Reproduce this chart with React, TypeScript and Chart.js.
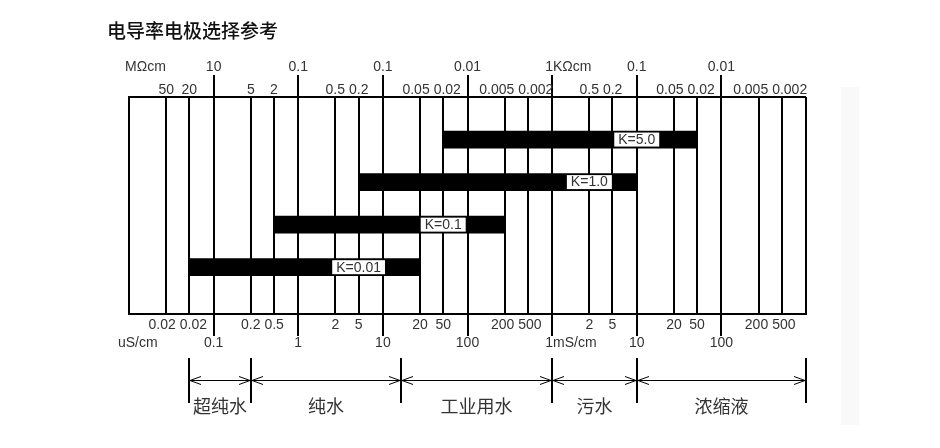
import { useEffect, useRef } from 'react';
import { Chart, registerables } from 'chart.js';

Chart.register(...registerables);

// ---------- data ----------
const TITLE = '电导率电极选择参考';

// conductivity axis, uS/cm
const AXIS_MIN = 0.01;
const AXIS_MAX = 1000000;
const MAJOR_LINES = [0.1, 1, 10, 100, 1000, 10000, 100000];
const MINOR_LINES = [
  0.02, 0.05, 0.2, 0.5, 2, 5, 20, 50, 200, 500,
  2000, 5000, 20000, 50000, 200000, 500000,
];

// resistivity labels (top)
const TOP_UNIT = 'MΩcm';
const TOP_MAJOR_LABELS = ['10', '0.1', '0.1', '0.01', '1KΩcm', '0.1', '0.01'];
const TOP_MINOR_LABELS = [
  '50', '20', '5', '2', '0.5', '0.2', '0.05', '0.02', '0.005', '0.002',
  '0.5', '0.2', '0.05', '0.02', '0.005', '0.002',
];

// conductivity labels (bottom)
const BOTTOM_UNIT = 'uS/cm';
const BOTTOM_MINOR_LABELS = [
  '0.02', '0.02', '0.2', '0.5', '2', '5', '20', '50', '200', '500',
  '2', '5', '20', '50', '200', '500',
];
const BOTTOM_MAJOR_LABELS = ['0.1', '1', '10', '100', '1mS/cm', '10', '100'];

// electrode ranges, uS/cm
const ELECTRODES = ['K=5.0', 'K=1.0', 'K=0.1', 'K=0.01'];
const RANGE_LOW = [50, 5, 0.5, 0.05];
const RANGE_HIGH = [50000, 10000, 200, 20];
const LABEL_AT = [10000, 2000, 50, 5];

// water classes, uS/cm boundaries
const WATER_TYPES = ['超纯水', '纯水', '工业用水', '污水', '浓缩液'];
const WATER_BOUNDS = [0.05, 0.2, 15, 1000, 10000, 1000000];

// ---------- the diagram's own log ruler (1, 2, 5 marks within a decade) ----------
const RULER_MANTISSA = [1, 2, 5, 10];
const RULER_FRACTION = [0, 0.44, 0.713, 1];

function toPos(v: number): number {
  let e = Math.floor(Math.log10(v) + 1e-9);
  let m = v / Math.pow(10, e);
  if (m < 1 - 1e-9) { m *= 10; e -= 1; }
  let i = 0;
  while (i < 2 && m > RULER_MANTISSA[i + 1]) i++;
  const t = (m - RULER_MANTISSA[i]) / (RULER_MANTISSA[i + 1] - RULER_MANTISSA[i]);
  const f = RULER_FRACTION[i] + t * (RULER_FRACTION[i + 1] - RULER_FRACTION[i]);
  return e - Math.round(Math.log10(AXIS_MIN)) + f;
}

const LATIN = '"Liberation Sans", Arial, sans-serif';
const CJK = '"Noto Sans CJK SC", sans-serif';
const TEXT = '#333';

type Item = { text: string; x: number; w: number };

function spread(items: Item[], gap: number) {
  items.sort((a, b) => a.x - b.x);
  for (let k = 0; k < items.length - 1; k++) {
    const a = items[k];
    const b = items[k + 1];
    const need = a.w / 2 + b.w / 2 + gap;
    const have = b.x - a.x;
    if (have < need) {
      const d = (need - have) / 2;
      a.x -= d;
      b.x += d;
    }
  }
}

const overlay = {
  id: 'diagramOverlay',
  afterDraw(chart: any) {
    const ctx: CanvasRenderingContext2D = chart.ctx;
    const xs = chart.scales.x;
    const ys = chart.scales.y;
    const area = chart.chartArea;
    const px = (v: number) => xs.getPixelForValue(toPos(v));
    ctx.save();

    // title
    ctx.fillStyle = '#111';
    ctx.font = `500 19px ${CJK}`;
    ctx.textAlign = 'left';
    ctx.textBaseline = 'middle';
    ctx.fillText(TITLE, area.left - 22, 31);

    // major tick extensions
    ctx.strokeStyle = '#000';
    ctx.lineWidth = 2;
    MAJOR_LINES.forEach((v) => {
      const x = Math.round(px(v));
      ctx.beginPath();
      ctx.moveTo(x, area.top - 22);
      ctx.lineTo(x, area.top);
      ctx.moveTo(x, area.bottom);
      ctx.lineTo(x, area.bottom + 22);
      ctx.stroke();
    });

    // bar labels
    ctx.font = `14px ${LATIN}`;
    ctx.textAlign = 'center';
    ELECTRODES.forEach((name, i) => {
      const cx = px(LABEL_AT[i]);
      const cy = ys.getPixelForValue(i + 1);
      const w = ctx.measureText(name).width + 8;
      ctx.fillStyle = '#fff';
      ctx.fillRect(cx - w / 2, cy - 7, w, 14);
      ctx.fillStyle = TEXT;
      ctx.fillText(name, cx, cy + 0.5);
    });

    // axis label rows
    const row = (labels: string[], values: number[], y: number) => {
      const items: Item[] = labels.map((t, k) => ({
        text: t,
        x: px(values[k]),
        w: ctx.measureText(t).width,
      }));
      spread(items, 4);
      items.forEach((it) => ctx.fillText(it.text, it.x, y));
    };
    ctx.fillStyle = TEXT;
    ctx.font = `14px ${LATIN}`;
    ctx.textAlign = 'center';

    const majorRow = (labels: string[], y: number) => {
      labels.forEach((t, k) => {
        const x = px(MAJOR_LINES[k]);
        if (/[A-Za-z]/.test(t)) {
          const lead = t.match(/^[0-9.]+/)![0];
          const w1 = ctx.measureText(lead).width;
          ctx.textAlign = 'left';
          ctx.fillText(t, x - w1 / 2 - 3, y);
          ctx.textAlign = 'center';
        } else {
          ctx.fillText(t, x, y);
        }
      });
    };

    const topRow1 = area.top - 30;
    const topRow2 = area.top - 7;
    const botRow1 = area.bottom + 11;
    const botRow2 = area.bottom + 29;

    majorRow(TOP_MAJOR_LABELS, topRow1);
    row(TOP_MINOR_LABELS, MINOR_LINES, topRow2);
    row(BOTTOM_MINOR_LABELS, MINOR_LINES, botRow1);
    majorRow(BOTTOM_MAJOR_LABELS, botRow2);

    ctx.textAlign = 'left';
    ctx.fillText(TOP_UNIT, area.left - 4, topRow1);
    ctx.fillText(BOTTOM_UNIT, area.left - 11, botRow2);

    // water classes with double arrows
    const vTop = area.bottom + 44;
    const vBot = area.bottom + 89;
    const ay = area.bottom + 66.5;
    const bx = WATER_BOUNDS.map((v) => Math.round(px(v)));
    ctx.strokeStyle = '#000';
    ctx.lineWidth = 2;
    bx.forEach((x) => {
      ctx.beginPath();
      ctx.moveTo(x, vTop);
      ctx.lineTo(x, vBot);
      ctx.stroke();
    });
    ctx.lineWidth = 1;
    for (let k = 0; k < WATER_TYPES.length; k++) {
      const x1 = bx[k];
      const x2 = bx[k + 1];
      ctx.beginPath();
      ctx.moveTo(x1, ay);
      ctx.lineTo(x2, ay);
      ctx.moveTo(x1 + 12, ay - 4);
      ctx.lineTo(x1 + 1, ay);
      ctx.lineTo(x1 + 12, ay + 4);
      ctx.moveTo(x2 - 12, ay - 4);
      ctx.lineTo(x2 - 1, ay);
      ctx.lineTo(x2 - 12, ay + 4);
      ctx.stroke();
    }
    ctx.fillStyle = TEXT;
    ctx.font = `18px ${CJK}`;
    ctx.textAlign = 'center';
    WATER_TYPES.forEach((t, k) => {
      ctx.fillText(t, (bx[k] + bx[k + 1]) / 2, area.bottom + 92);
    });

    ctx.restore();
  },
};

export default function App() {
  const ref = useRef<HTMLCanvasElement | null>(null);

  useEffect(() => {
    if (!ref.current) return;
    const gridValues = [AXIS_MIN, ...MAJOR_LINES, ...MINOR_LINES, AXIS_MAX].map(toPos);
    const chart = new Chart(ref.current, {
      type: 'bar',
      data: {
        datasets: [
          {
            data: ELECTRODES.map((_, i) => ({
              x: [toPos(RANGE_LOW[i]), toPos(RANGE_HIGH[i])],
              y: i + 1,
            })) as any,
            backgroundColor: '#000',
            borderWidth: 0,
            borderSkipped: false,
            barThickness: 17,
          },
        ],
      },
      options: {
        indexAxis: 'y',
        responsive: false,
        animation: false,
        events: [],
        layout: { padding: { left: 129, right: 134, top: 97, bottom: 134 } },
        plugins: {
          legend: { display: false },
          tooltip: { enabled: false },
          title: { display: false },
        },
        scales: {
          x: {
            type: 'linear',
            offset: false,
            min: toPos(AXIS_MIN),
            max: toPos(AXIS_MAX),
            afterBuildTicks: (s: any) => {
              s.ticks = gridValues.map((v) => ({ value: v }));
            },
            ticks: { display: false },
            grid: { color: '#000', lineWidth: 2, drawTicks: false, offset: false },
            border: { display: true, color: '#000', width: 2 },
          },
          y: {
            type: 'linear',
            offset: false,
            reverse: true,
            min: 0,
            max: 5.1,
            afterBuildTicks: (s: any) => {
              s.ticks = [{ value: 0 }, { value: 5.1 }];
            },
            ticks: { display: false },
            grid: { color: '#000', lineWidth: 2, drawTicks: false, offset: false },
            border: { display: true, color: '#000', width: 2 },
          },
        },
      } as any,
      plugins: [overlay],
    });
    return () => chart.destroy();
  }, []);

  return (
    <div style={{ position: 'fixed', left: 0, top: 0, width: 940, height: 448, background: '#fff' }}>
      <canvas ref={ref} width={940} height={448} style={{ width: 940, height: 448, display: 'block' }} />
      <div
        style={{
          position: 'absolute',
          left: 841,
          top: 87,
          width: 18,
          height: 338,
          background: '#f9f9f9',
        }}
      />
    </div>
  );
}
